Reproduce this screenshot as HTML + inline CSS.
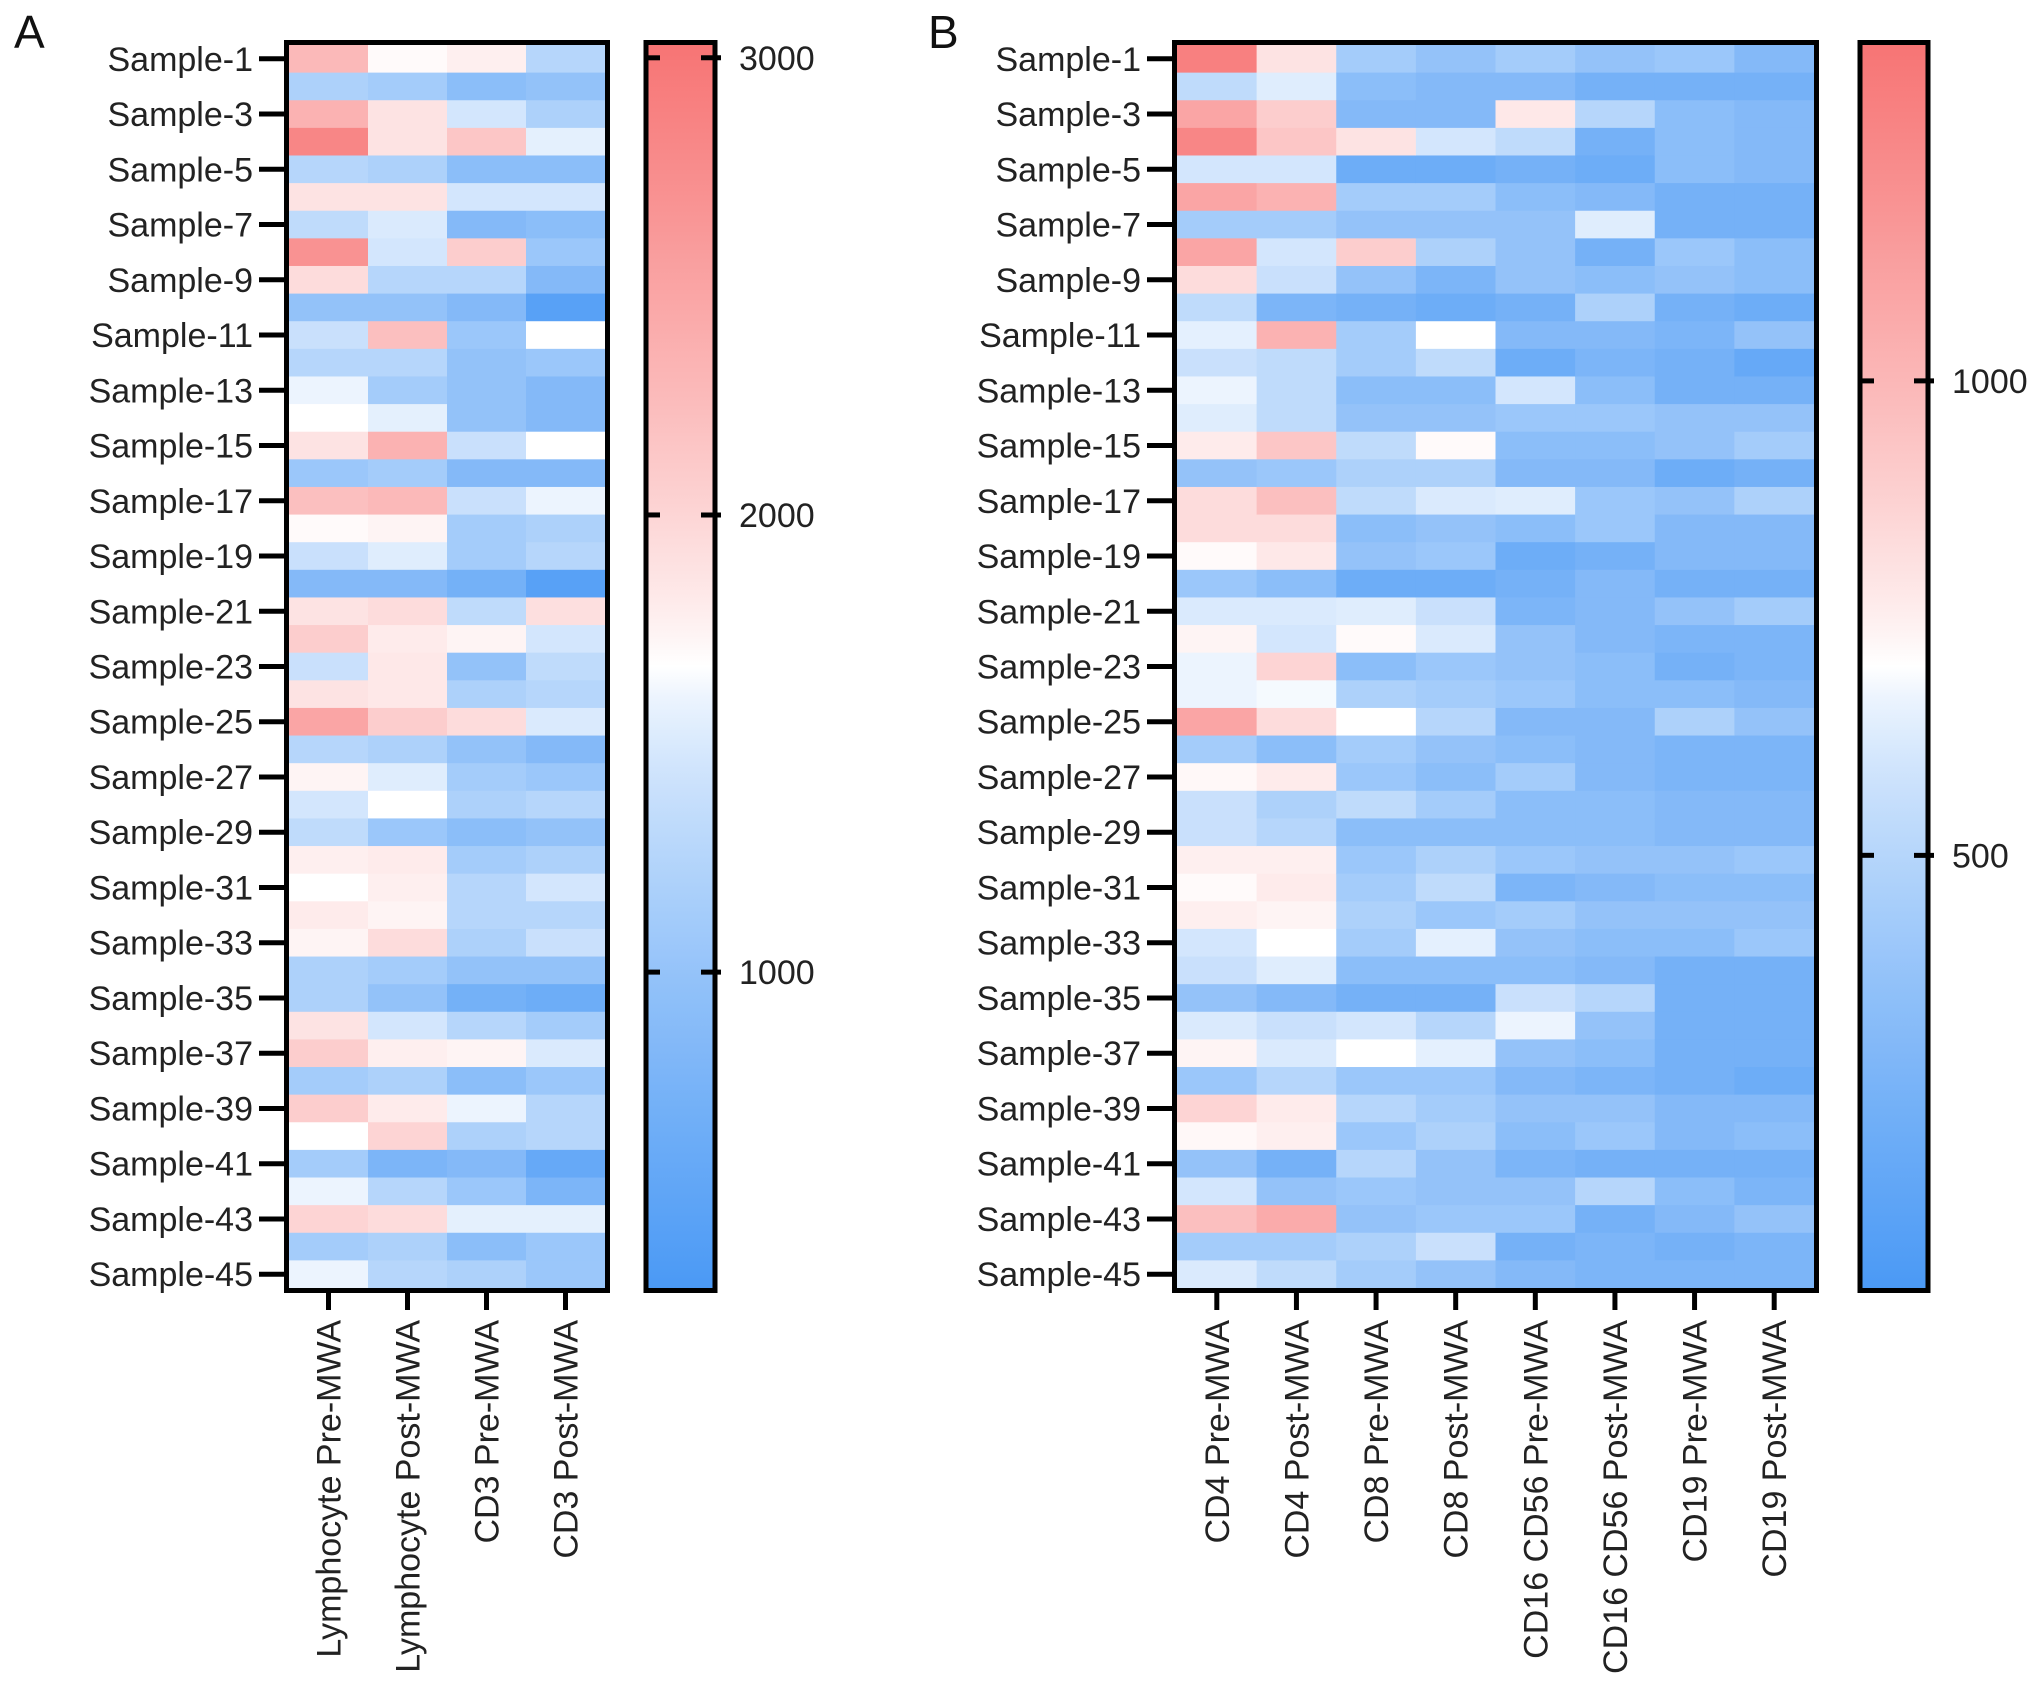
<!DOCTYPE html>
<html><head><meta charset="utf-8"><style>
html,body{margin:0;padding:0;background:#fff;}
svg{display:block;font-family:"Liberation Sans",Arial,sans-serif;}
</style></head><body>
<svg id="fig" width="2032" height="1686" viewBox="0 0 2032 1686" xmlns="http://www.w3.org/2000/svg"></svg>
<script>
const rowLabelsA = Array.from({length:45},(_,i)=>'Sample-'+(i+1));
const colsA = ['Lymphocyte Pre-MWA','Lymphocyte Post-MWA','CD3 Pre-MWA','CD3 Post-MWA'];
const lymPre = [2280,1192,2348,2824,1260,1872,1328,2688,1940,988,1396,1260,1600,1668,1872,1056,2212,1695,1396,852,1872,2076,1396,1872,2484,1260,1736,1464,1328,1777,1668,1804,1736,1192,1192,1872,2076,1124,2076,1668,1124,1600,2008,1124,1600];
const lymPost = [1695,1124,1872,1872,1192,1872,1505,1464,1260,988,2212,1260,1124,1559,2348,1124,2280,1736,1532,852,1940,1804,1831,1831,2076,1192,1532,1668,1056,1804,1777,1736,1940,1124,988,1464,1777,1192,1804,2008,784,1260,1940,1192,1260];
const cd3Pre = [1777,920,1464,2144,920,1464,852,2076,1260,852,1056,988,988,988,1396,852,1396,1124,1124,716,1328,1736,988,1192,1940,988,1124,1192,920,1124,1260,1260,1192,988,716,1260,1736,920,1600,1192,852,1056,1559,920,1192];
const cd3Post = [1260,988,1192,1559,920,1464,920,1056,852,444,1668,1056,852,852,1668,852,1600,1192,1260,444,1913,1464,1328,1260,1505,852,1056,1260,988,1192,1464,1260,1396,988,648,1124,1505,1056,1260,1260,580,784,1559,1056,1056];
const ticksA = [1000,2000,3000];

const colsB = ['CD4 Pre-MWA','CD4 Post-MWA','CD8 Pre-MWA','CD8 Post-MWA','CD16 CD56 Pre-MWA','CD16 CD56 Post-MWA','CD19 Pre-MWA','CD19 Post-MWA'];
const cd4Pre = [1289,535,1092,1256,601,1092,437,1092,830,535,647,568,666,634,765,372,830,830,712,404,620,732,666,666,1092,437,719,568,568,751,712,751,601,568,372,620,732,404,863,719,372,601,961,437,620];
const cd4Post = [797,634,896,928,601,1027,437,601,568,273,1027,535,535,535,928,404,961,830,778,339,620,601,863,686,830,339,765,470,503,751,765,732,699,634,306,568,620,503,765,751,241,372,1059,437,535];
const cd8Pre = [437,339,306,797,208,437,372,896,372,241,437,437,339,372,535,470,535,339,372,208,634,712,339,470,699,437,404,535,339,404,437,470,437,339,241,601,699,404,503,404,503,404,372,470,437];
const cd8Post = [372,306,306,601,208,437,372,470,273,208,699,535,339,372,712,470,620,372,404,208,568,620,404,437,503,372,339,437,339,470,535,404,647,339,241,503,647,404,437,470,372,372,404,568,372];
const cd16Pre = [437,306,778,535,241,339,372,372,372,241,306,208,601,404,339,306,634,339,208,241,273,372,372,404,306,339,437,339,339,404,273,437,372,339,568,666,372,306,372,339,273,372,404,241,306];
const cd16Post = [372,241,503,241,208,306,634,241,339,470,306,273,339,404,339,306,404,404,241,306,306,306,339,339,306,306,306,339,339,372,306,372,339,306,503,372,339,273,372,404,241,503,241,273,273];
const cd19Pre = [404,241,339,339,339,241,241,404,372,241,273,241,241,372,372,208,372,306,306,241,372,273,241,339,470,273,273,306,306,372,339,372,339,241,241,241,241,241,306,306,241,339,306,241,273];
const cd19Post = [306,241,306,306,306,241,241,339,339,208,372,175,241,372,437,241,470,306,306,241,437,273,273,306,372,273,273,306,306,404,339,372,404,241,241,241,241,208,306,339,241,273,372,273,273];
const ticksB = [500,1000];

const NS='http://www.w3.org/2000/svg';
const svg=document.getElementById('fig');
function mk(tag,attrs,parent){const e=document.createElementNS(NS,tag);for(const k in attrs)e.setAttribute(k,attrs[k]);(parent||svg).appendChild(e);return e;}
const RED=[247,116,116],WHITE=[255,255,255],BLUE=[74,153,245];
function mix(a,b,f){return 'rgb('+a.map((v,i)=>Math.round(v+(b[i]-v)*f)).join(',')+')';}
function colorFor(v,min,max){const mid=(min+max)/2;let t=(v-mid)/((max-min)/2);t=Math.max(-1,Math.min(1,t));return t>=0?mix(WHITE,RED,Math.pow(t,0.85)):mix(WHITE,BLUE,Math.pow(-t,0.75));}

function panel(cfg){
  const {x0,x1,y0,y1,cols,data,min,max,cbx0,cbx1,ticks,letter,lx,name}=cfg;
  const g=mk('g',{});
  
  
  const nR=45,nC=cols.length,cw=(x1-x0)/nC,rh=(y1-y0)/nR;
  const xs=c=>x0+c*cw, ys=r=>y0+r*rh;
  for(let c=0;c<nC;c++)for(let r=0;r<nR;r++){
    const rc=mk('rect',{x:xs(c),y:ys(r),width:cw+0.5,height:rh+0.5,fill:colorFor(data[c][r],min,max)},g);
    
    
  }
  const b=mk('rect',{x:x0-2.5,y:y0-2.5,width:x1-x0+5,height:y1-y0+5,fill:'none',stroke:'#000','stroke-width':5},g);
  
  
  for(let r=0;r<nR;r+=2){
    const y=ys(r)+rh/2;
    mk('line',{x1:x0-30,x2:x0,y1:y,y2:y,stroke:'#000','stroke-width':5},g);
    const t=mk('text',{x:x0-36,y:y+12,'text-anchor':'end','font-size':34,fill:'#222'},g);
    t.textContent='Sample-'+(r+1);
    
    
  }
  for(let c=0;c<nC;c++){
    const x=xs(c)+cw/2;
    mk('line',{x1:x,x2:x,y1:y1,y2:y1+22,stroke:'#000','stroke-width':5},g);
    const t=mk('text',{x:0,y:0,'text-anchor':'end','font-size':34,fill:'#222',transform:'translate('+(x+12)+','+(y1+32)+') rotate(-90)'},g);
    t.textContent=cols[c];
    
    
  }
  const gid='grad'+letter;
  const defs=mk('defs',{},g);
  const lg=mk('linearGradient',{id:gid,x1:0,y1:0,x2:0,y2:1},defs);
  for(let i=0;i<=40;i++){const v=max-(max-min)*i/40;mk('stop',{offset:(i/40),'stop-color':colorFor(v,min,max)},lg);}
  const cb=mk('rect',{x:cbx0,y:y0-2.5,width:cbx1-cbx0,height:y1-y0+5,fill:'url(#'+gid+')',stroke:'#000','stroke-width':5},g);
  
  
  const cy=v=>y0+(max-v)/(max-min)*(y1-y0);
  ticks.forEach(v=>{
    const y=cy(v);
    mk('line',{x1:cbx0,x2:cbx0+14,y1:y,y2:y,stroke:'#000','stroke-width':5},g);
    mk('line',{x1:cbx1-14,x2:cbx1+6,y1:y,y2:y,stroke:'#000','stroke-width':5},g);
    const t=mk('text',{x:cbx1+24,y:y+12,'font-size':34,fill:'#222'},g);
    t.textContent=String(v);
    
    
  });
  const L=mk('text',{x:lx,y:48,'font-size':46,fill:'#111'},g);
  L.textContent=letter;
  
  
}
panel({name:'panel-a',x0:289,x1:605,y0:45,y1:1288,cols:colsA,data:[lymPre,lymPost,cd3Pre,cd3Post],min:309,max:3028,cbx0:646,cbx1:715,ticks:ticksA,letter:'A',lx:14});
panel({name:'panel-b',x0:1177,x1:1814,y0:45,y1:1288,cols:colsB,data:[cd4Pre,cd4Post,cd8Pre,cd8Post,cd16Pre,cd16Post,cd19Pre,cd19Post],min:44,max:1354,cbx0:1860,cbx1:1928,ticks:ticksB,letter:'B',lx:928});
</script>
</body></html>
